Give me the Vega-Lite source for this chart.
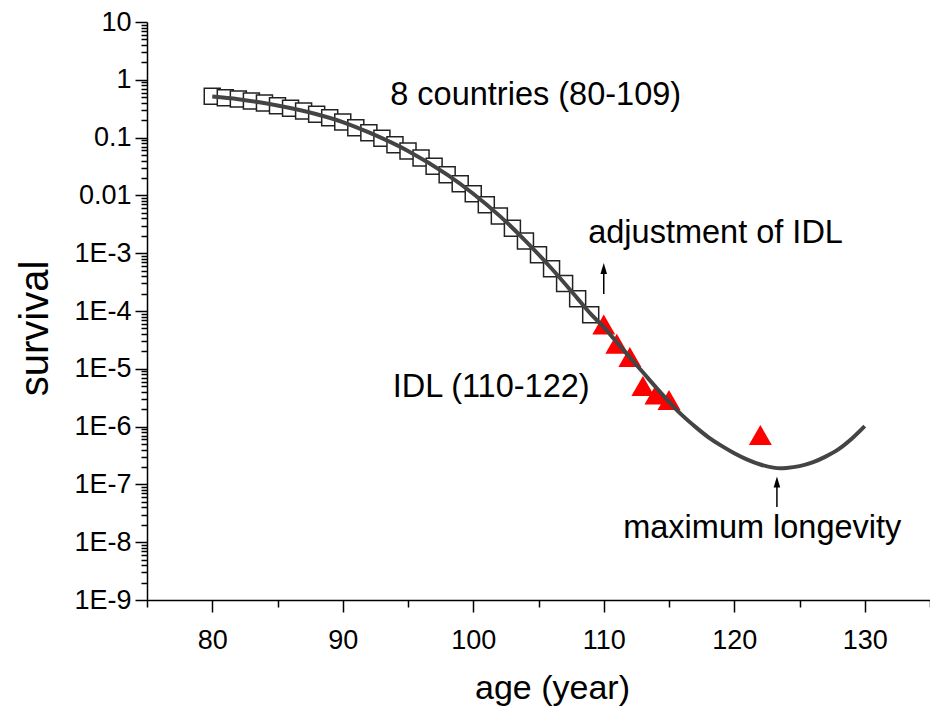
{
  "$schema": "https://vega.github.io/schema/vega-lite/v6.json",
  "width": 783,
  "height": 578,
  "autosize": {"type": "none"},
  "padding": {"left": 147, "top": 22, "right": 0, "bottom": 114},
  "background": "white",
  "config": {"view": {"stroke": null}, "font": "Liberation Sans"},
  "datasets": {
    "squares": [
      {"age": 80, "survival": 0.518}, {"age": 81, "survival": 0.49}, {"age": 82, "survival": 0.466},
      {"age": 83, "survival": 0.43}, {"age": 84, "survival": 0.397}, {"age": 85, "survival": 0.357},
      {"age": 86, "survival": 0.321}, {"age": 87, "survival": 0.289}, {"age": 88, "survival": 0.253},
      {"age": 89, "survival": 0.221}, {"age": 90, "survival": 0.186}, {"age": 91, "survival": 0.148},
      {"age": 92, "survival": 0.1215}, {"age": 93, "survival": 0.0973}, {"age": 94, "survival": 0.0754},
      {"age": 95, "survival": 0.0586}, {"age": 96, "survival": 0.0443}, {"age": 97, "survival": 0.0319},
      {"age": 98, "survival": 0.0228}, {"age": 99, "survival": 0.0159}, {"age": 100, "survival": 0.0107},
      {"age": 101, "survival": 0.0069}, {"age": 102, "survival": 0.0044}, {"age": 103, "survival": 0.0027},
      {"age": 104, "survival": 0.00163}, {"age": 105, "survival": 0.00094}, {"age": 106, "survival": 0.00054},
      {"age": 107, "survival": 0.0003}, {"age": 108, "survival": 0.000163}, {"age": 109, "survival": 0.000086}
    ],
    "idl": [
      {"age": 110, "survival": 5.84e-5}, {"age": 111, "survival": 2.72e-5}, {"age": 112, "survival": 1.6e-5},
      {"age": 113, "survival": 5.04e-6}, {"age": 114, "survival": 3.59e-6}, {"age": 115, "survival": 2.88e-6},
      {"age": 122, "survival": 7.16e-7}
    ],
    "curve": [
      {"age": 80, "survival": 0.513}, {"age": 82, "survival": 0.462}, {"age": 85, "survival": 0.359},
      {"age": 88, "survival": 0.254}, {"age": 90, "survival": 0.186}, {"age": 92, "survival": 0.123},
      {"age": 95, "survival": 0.0589}, {"age": 98, "survival": 0.0229}, {"age": 100, "survival": 0.0107},
      {"age": 102, "survival": 0.00447}, {"age": 104, "survival": 0.00164}, {"age": 106, "survival": 0.000543},
      {"age": 108, "survival": 0.000164}, {"age": 109, "survival": 8.9e-5}, {"age": 110, "survival": 5.25e-5},
      {"age": 111, "survival": 2.88e-5}, {"age": 112, "survival": 1.58e-5}, {"age": 113, "survival": 8.7e-6},
      {"age": 114, "survival": 4.79e-6}, {"age": 115, "survival": 2.69e-6}, {"age": 116, "survival": 1.58e-6},
      {"age": 117, "survival": 1.0e-6}, {"age": 118, "survival": 6.6e-7}, {"age": 119, "survival": 4.68e-7},
      {"age": 120, "survival": 3.47e-7}, {"age": 121, "survival": 2.69e-7}, {"age": 122, "survival": 2.21e-7},
      {"age": 123, "survival": 1.95e-7}, {"age": 123.5, "survival": 1.905e-7}, {"age": 124, "survival": 1.93e-7},
      {"age": 125, "survival": 2.07e-7}, {"age": 126, "survival": 2.4e-7}, {"age": 127, "survival": 3.02e-7},
      {"age": 128, "survival": 4.07e-7}, {"age": 129, "survival": 6.17e-7}, {"age": 130, "survival": 1.02e-6}
    ],
    "arrows": [
      {"age": 110, "survival": 1.97e-4, "survival2": 5.12e-4},
      {"age": 123.27, "survival": 4.06e-8, "survival2": 9.77e-8}
    ],
    "heads": [
      {"age": 110, "survival": 5.43e-4},
      {"age": 123.27, "survival": 1.1e-7}
    ],
    "labels": [
      {"age": 93.64, "survival": 0.36, "label": "8 countries (80-109)"},
      {"age": 108.81, "survival": 0.00148, "label": "adjustment of IDL"},
      {"age": 93.83, "survival": 3.2e-6, "label": "IDL (110-122)"},
      {"age": 111.49, "survival": 1.17e-8, "label": "maximum longevity"}
    ]
  },
  "encoding": {
    "x": {
      "field": "age", "type": "quantitative",
      "scale": {"domain": [75, 135], "nice": false, "zero": false},
      "axis": {
        "title": "age (year)",
        "values": [75, 80, 85, 90, 95, 100, 105, 110, 115, 120, 125, 130, 135],
        "labelExpr": "datum.value % 10 === 0 ? format(datum.value, '') : ''",
        "tickSize": {"condition": {"test": "datum.value % 10 === 0", "value": 12}, "value": 7},
        "grid": false,
        "labelFontSize": 27, "labelPadding": 15, "labelColor": "black",
        "labelOverlap": false, "labelFlush": false, "labelBound": false,
        "domainColor": "black", "domainWidth": 1.5, "tickColor": "black", "tickWidth": 1.5,
        "titleFontSize": 34, "titleFontWeight": "normal", "titleColor": "black",
        "titleX": 405, "titleY": 88, "titleBaseline": "middle", "titleAlign": "center"
      }
    },
    "y": {
      "field": "survival", "type": "quantitative",
      "scale": {"type": "log", "domain": [1e-9, 10], "nice": false},
      "axis": {
        "title": "survival",
        "values": [1e-9, 2e-9, 3e-9, 4e-9, 5e-9, 6e-9, 7e-9, 8e-9, 9e-9,
                   1e-8, 2e-8, 3e-8, 4e-8, 5e-8, 6e-8, 7e-8, 8e-8, 9e-8,
                   1e-7, 2e-7, 3e-7, 4e-7, 5e-7, 6e-7, 7e-7, 8e-7, 9e-7,
                   1e-6, 2e-6, 3e-6, 4e-6, 5e-6, 6e-6, 7e-6, 8e-6, 9e-6,
                   1e-5, 2e-5, 3e-5, 4e-5, 5e-5, 6e-5, 7e-5, 8e-5, 9e-5,
                   1e-4, 2e-4, 3e-4, 4e-4, 5e-4, 6e-4, 7e-4, 8e-4, 9e-4,
                   1e-3, 2e-3, 3e-3, 4e-3, 5e-3, 6e-3, 7e-3, 8e-3, 9e-3,
                   0.01, 0.02, 0.03, 0.04, 0.05, 0.06, 0.07, 0.08, 0.09,
                   0.1, 0.2, 0.3, 0.4, 0.5, 0.6, 0.7, 0.8, 0.9,
                   1, 2, 3, 4, 5, 6, 7, 8, 9, 10],
        "labelExpr": "abs(log(datum.value)/LN10 - round(log(datum.value)/LN10)) < 0.001 ? (datum.value >= 0.01 ? format(datum.value, '') : '1E' + round(log(datum.value)/LN10)) : ''",
        "tickSize": {"condition": {"test": "abs(log(datum.value)/LN10 - round(log(datum.value)/LN10)) < 0.001", "value": 12}, "value": 6},
        "grid": false,
        "labelFontSize": 27, "labelPadding": 4, "labelColor": "black",
        "labelOverlap": false, "labelFlush": false, "labelBound": false,
        "domainColor": "black", "domainWidth": 1.5, "tickColor": "black", "tickWidth": 1.5,
        "titleFontSize": 40, "titleFontWeight": "normal", "titleColor": "black",
        "titleX": -112, "titleY": 306, "titleBaseline": "middle", "titleAlign": "center", "titleAngle": -90
      }
    }
  },
  "layer": [
    {
      "data": {"name": "squares"},
      "mark": {"type": "point", "shape": "square", "size": 256, "filled": true, "fill": "white", "stroke": "#222222", "strokeWidth": 1.5, "opacity": 1}
    },
    {
      "data": {"name": "idl"},
      "mark": {"type": "point", "shape": "triangle-up", "size": 529, "filled": true, "color": "#ff0000", "opacity": 1}
    },
    {
      "data": {"name": "curve"},
      "mark": {"type": "line", "color": "#444444", "strokeWidth": 4, "interpolate": "monotone"}
    },
    {
      "data": {"name": "arrows"},
      "mark": {"type": "rule", "color": "black", "strokeWidth": 1.5},
      "encoding": {"y2": {"field": "survival2"}}
    },
    {
      "data": {"name": "heads"},
      "mark": {"type": "point", "shape": "M0,-1L0.6,1L-0.6,1Z", "size": 121, "filled": true, "color": "black", "opacity": 1}
    },
    {
      "data": {"name": "labels"},
      "mark": {"type": "text", "align": "left", "baseline": "alphabetic", "fontSize": 32.5, "color": "black"},
      "encoding": {"text": {"field": "label"}}
    }
  ]
}
